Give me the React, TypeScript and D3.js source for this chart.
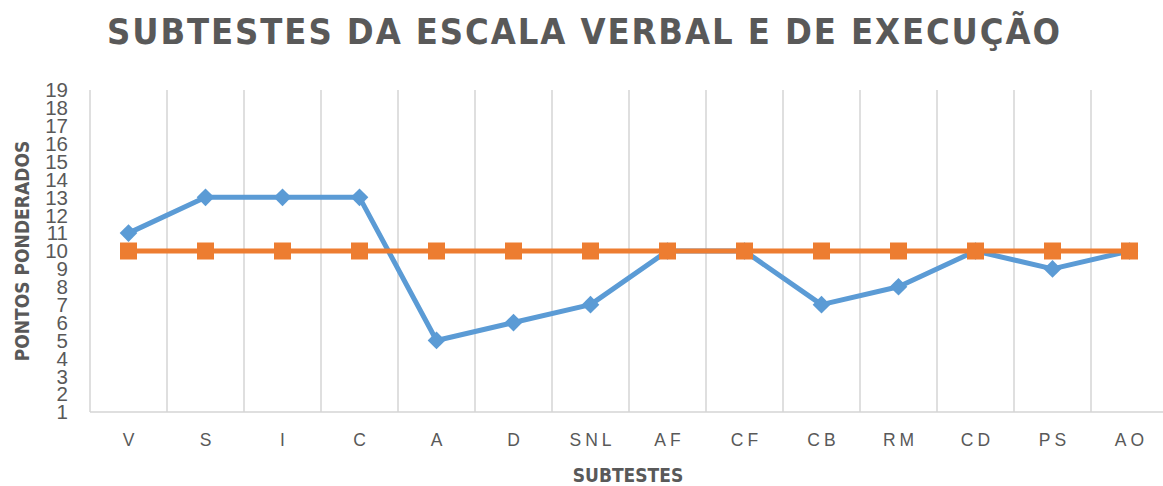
import * as d3 from 'd3';

const categories = ['V', 'S', 'I', 'C', 'A', 'D', 'SNL', 'AF', 'CF', 'CB', 'RM', 'CD', 'PS', 'AO'];
const scores = [11, 13, 13, 13, 5, 6, 7, 10, 10, 7, 8, 10, 9, 10];
const reference = [10, 10, 10, 10, 10, 10, 10, 10, 10, 10, 10, 10, 10, 10];
const yTicks = d3.range(1, 20);

const W = 1163;
const H = 486;
const GRAY = '#595959';
const GRID = '#d4d4d4';
const FONT = "'Liberation Sans Narrow', 'DejaVu Sans Condensed', 'Liberation Sans', sans-serif";

export default function App() {
  const x = d3.scaleBand<string>().domain(categories).range([90, 1168]).padding(0);
  const y = d3.scaleLinear().domain([1, 19]).range([412, 90]);
  const cx = (c: string) => (x(c) ?? 0) + x.bandwidth() / 2;

  const line = d3.line<number>()
    .x((_, i) => cx(categories[i]))
    .y(d => y(d));

  // excel style: diamond = rotated square, plus plain square
  const diamond = d3.symbol().type(d3.symbolSquare).size(12.5 * 12.5);
  const square = d3.symbol().type(d3.symbolSquare).size(17 * 17);

  return (
    <svg width={W} height={H} style={{ position: 'absolute', left: 0, top: 0, background: 'white' }}>
      {/* title */}
      <text x={107} y={44} textLength={953} lengthAdjust="spacing"
        style={{ fontFamily: FONT, fontWeight: 'bold', fontSize: 36, fill: GRAY }}>
        SUBTESTES DA ESCALA VERBAL E DE EXECUÇÃO
      </text>

      {/* vertical gridlines at category boundaries */}
      {categories.map(c => (
        <line key={'g' + c} x1={(x(c) ?? 0) + x.bandwidth()} x2={(x(c) ?? 0) + x.bandwidth()}
          y1={y(19)} y2={y(1)} stroke={GRID} strokeWidth={1.5} />
      ))}
      {/* axes */}
      <line x1={90} x2={90} y1={y(19)} y2={y(1)} stroke={GRID} strokeWidth={1.5} />
      <line x1={90} x2={1168} y1={y(1)} y2={y(1)} stroke={GRID} strokeWidth={1.5} />

      {/* y tick labels */}
      {yTicks.map(t => (
        <text key={'y' + t} x={68} y={y(t)} dy="0.36em" textAnchor="end"
          style={{ fontFamily: "'Liberation Sans', sans-serif", fontSize: 20.5, fill: GRAY }}>
          {t}
        </text>
      ))}

      {/* x tick labels */}
      {categories.map(c => (
        <text key={'x' + c} x={cx(c) + 2} y={446} textAnchor="middle"
          style={{ fontFamily: "'Liberation Sans', sans-serif", fontSize: 17.5, fill: GRAY, letterSpacing: '4px' }}>
          {c}
        </text>
      ))}

      {/* axis titles */}
      <text x={628} y={482} textAnchor="middle"
        style={{ fontFamily: FONT, fontWeight: 'bold', fontSize: 19, fill: GRAY }}>
        SUBTESTES
      </text>
      <text transform="translate(29,251) rotate(-90)" textAnchor="middle"
        style={{ fontFamily: FONT, fontWeight: 'bold', fontSize: 19, fill: GRAY }}>
        PONTOS PONDERADOS
      </text>

      {/* blue series */}
      <path d={line(scores) ?? ''} fill="none" stroke="#5B9BD5" strokeWidth={5} strokeLinejoin="round" />
      {scores.map((v, i) => (
        <path key={'b' + i} d={diamond() ?? ''} fill="#5B9BD5"
          transform={`translate(${cx(categories[i])},${y(v)}) rotate(45)`} />
      ))}

      {/* orange series */}
      <path d={line(reference) ?? ''} fill="none" stroke="#ED7D31" strokeWidth={5} />
      {reference.map((v, i) => (
        <path key={'o' + i} d={square() ?? ''} fill="#ED7D31"
          transform={`translate(${cx(categories[i])},${y(v)})`} />
      ))}
    </svg>
  );
}
